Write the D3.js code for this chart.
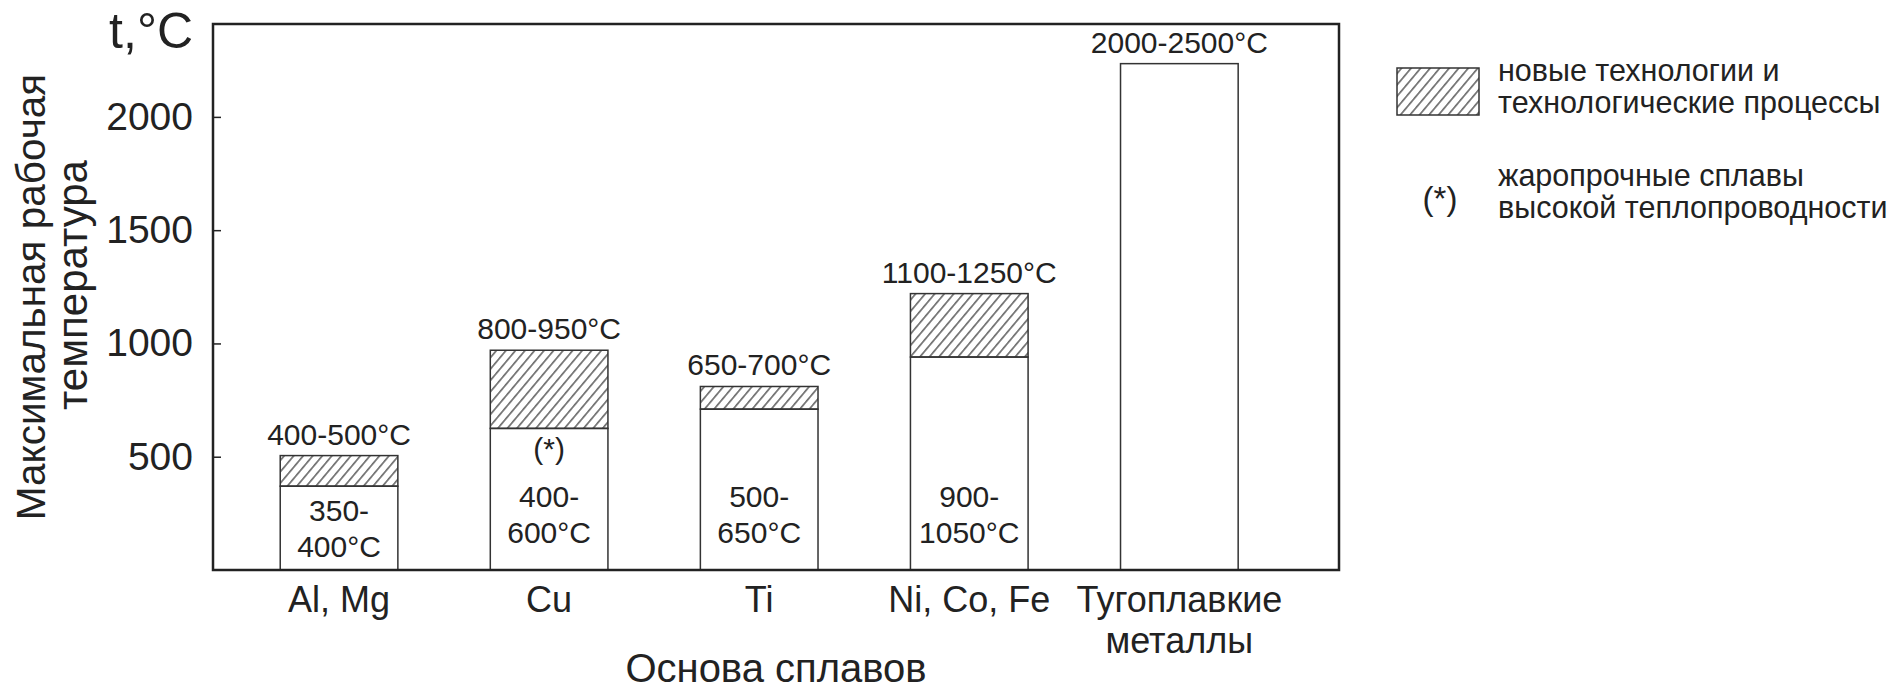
<!DOCTYPE html>
<html>
<head>
<meta charset="utf-8">
<script src="https://cdn.jsdelivr.net/npm/d3@7"></script>
<style>
    body { margin: 0; background: #fff; }
    svg { display: block; font-family: "Liberation Sans", Arial, sans-serif; }
    text { fill: #222; }
</style>
</head>
<body>
<script>
// alloy bases (x categories), one array of lines per label
var categories = ["Al, Mg", "Cu", "Ti", "Ni, Co, Fe", "Тугоплавкие металлы"];
var categoryLines = [["Al, Mg"], ["Cu"], ["Ti"], ["Ni, Co, Fe"], ["Тугоплавкие", "металлы"]];

// top of the plain part of each bar, °C
var baseTemp = [370, 625, 710, 940, 2235];
// top of the hatched part (new technologies), °C
var newTechTemp = [505, 970, 810, 1220, null];

var topLabels = ["400-500°C", "800-950°C", "650-700°C", "1100-1250°C", "2000-2500°C"];
var innerLabels = [["350-", "400°C"], ["400-", "600°C"], ["500-", "650°C"], ["900-", "1050°C"], []];
var starred = [false, true, false, false, false];

var yTicks = [500, 1000, 1500, 2000];
var yExtent = [0, 2410];

var legendItems = [
    ["новые технологии и", "технологические процессы"],
    ["жаропрочные сплавы", "высокой теплопроводности"]
];

var totalWidth = 1893, totalHeight = 689;
var margin = {top: 24, left: 213, right: 554, bottom: 119};
var width = totalWidth - margin.left - margin.right;
var height = totalHeight - margin.top - margin.bottom;

var dataset = categories.map(function(c, i) {
    return {
        key: c,
        lines: categoryLines[i],
        base: baseTemp[i],
        top: newTechTemp[i],
        label: topLabels[i],
        inner: innerLabels[i],
        star: starred[i]
    };
});

var svg = d3.select("body").append("svg")
    .attr("width", totalWidth)
    .attr("height", totalHeight);

var defs = svg.append("defs");
defs.append("pattern")
    .attr("id", "hatch")
    .attr("patternUnits", "userSpaceOnUse")
    .attr("width", 7.3)
    .attr("height", 10)
    .attr("patternTransform", "rotate(40)")
    .append("line")
    .attr("x1", 3.6).attr("y1", 0)
    .attr("x2", 3.6).attr("y2", 10)
    .attr("stroke", "#333")
    .attr("stroke-width", 1.2);

var g = svg.append("g")
    .attr("transform", "translate(" + margin.left + "," + margin.top + ")");

var xScale = d3.scaleBand()
    .domain(categories)
    .range([0, width])
    .paddingInner(0.44)
    .paddingOuter(0.4)
    .align(0.4);

var yScale = d3.scaleLinear()
    .domain(yExtent)
    .range([height, 0]);

// y axis, ticks pointing inward
var yAxis = d3.axisLeft(yScale)
    .tickValues(yTicks)
    .tickSize(-8)
    .tickPadding(20)
    .tickFormat(d3.format("d"));

var yAxisG = g.append("g")
    .call(yAxis);
yAxisG.select(".domain").remove();
yAxisG.selectAll(".tick line").attr("stroke", "#222").attr("stroke-width", 1.5);
yAxisG.selectAll(".tick text")
    .attr("font-size", 39)
    .attr("fill", "#222");

// bars: plain part
g.selectAll(".bar-base")
    .data(dataset)
    .enter()
    .append("rect")
    .attr("class", "bar-base")
    .attr("x", function(d) { return xScale(d.key); })
    .attr("width", xScale.bandwidth())
    .attr("y", function(d) { return yScale(d.base); })
    .attr("height", function(d) { return yScale(yExtent[0]) - yScale(d.base); })
    .attr("fill", "#fff")
    .attr("stroke", "#333")
    .attr("stroke-width", 1.5);

// bars: hatched part
var hatched = dataset.filter(function(d) { return d.top != null; });
g.selectAll(".bar-new")
    .data(hatched)
    .enter()
    .append("rect")
    .attr("class", "bar-new")
    .attr("x", function(d) { return xScale(d.key); })
    .attr("width", xScale.bandwidth())
    .attr("y", function(d) { return yScale(d.top); })
    .attr("height", function(d) { return yScale(d.base) - yScale(d.top); })
    .attr("fill", "url(#hatch)")
    .attr("stroke", "#333")
    .attr("stroke-width", 1.5);

// range labels above bars
g.selectAll(".top-label")
    .data(dataset)
    .enter()
    .append("text")
    .attr("class", "top-label")
    .attr("x", function(d) { return xScale(d.key) + xScale.bandwidth() / 2; })
    .attr("y", function(d) { return yScale(d.top != null ? d.top : d.base) - 11; })
    .attr("text-anchor", "middle")
    .attr("font-size", 30)
    .text(function(d) { return d.label; });

// range labels inside the plain part
var lineStep = 36;
dataset.forEach(function(d) {
    if (!d.inner.length) return;
    var cx = xScale(d.key) + xScale.bandwidth() / 2;
    var segTop = yScale(d.base), segBottom = yScale(yExtent[0]);
    var centered = segTop + (segBottom - segTop - (lineStep + 22)) / 2 + 22 + lineStep;
    var last = Math.max(centered, segBottom - 27);
    d.inner.forEach(function(line, i) {
        g.append("text")
            .attr("x", cx)
            .attr("y", last - (d.inner.length - 1 - i) * lineStep)
            .attr("text-anchor", "middle")
            .attr("font-size", 30)
            .text(line);
    });
    if (d.star) {
        g.append("text")
            .attr("x", cx)
            .attr("y", segTop + 31)
            .attr("text-anchor", "middle")
            .attr("font-size", 30)
            .text("(*)");
    }
});

// plot frame
g.append("rect")
    .attr("x", 0)
    .attr("y", 0)
    .attr("width", width)
    .attr("height", height)
    .attr("fill", "none")
    .attr("stroke", "#222")
    .attr("stroke-width", 2.5);

// category labels
dataset.forEach(function(d) {
    var cx = xScale(d.key) + xScale.bandwidth() / 2;
    d.lines.forEach(function(line, i) {
        g.append("text")
            .attr("x", cx)
            .attr("y", height + 42 + i * 41)
            .attr("text-anchor", "middle")
            .attr("font-size", 36)
            .text(line);
    });
});

// axis titles
g.append("text")
    .attr("x", width / 2)
    .attr("y", height + 112)
    .attr("text-anchor", "middle")
    .attr("font-size", 40)
    .text("Основа сплавов");

g.append("text")
    .attr("x", -20)
    .attr("y", 24)
    .attr("text-anchor", "end")
    .attr("font-size", 50)
    .text("t,°C");

var yTitle = ["Максимальная рабочая", "температура"];
yTitle.forEach(function(line, i) {
    svg.append("text")
        .attr("transform", "translate(" + (45 + i * 42) + "," + (margin.top + height / 2 - i * 12) + ") rotate(-90)")
        .attr("text-anchor", "middle")
        .attr("font-size", i ? 42 : 40.5)
        .text(line);
});

// legend
var legend = svg.append("g")
    .attr("transform", "translate(1397,68)");

legend.append("rect")
    .attr("x", 0)
    .attr("y", 0)
    .attr("width", 82)
    .attr("height", 47)
    .attr("fill", "url(#hatch)")
    .attr("stroke", "#333")
    .attr("stroke-width", 1.5);

legend.append("text")
    .attr("x", 43)
    .attr("y", 142)
    .attr("text-anchor", "middle")
    .attr("font-size", 33)
    .text("(*)");

legendItems.forEach(function(lines, k) {
    lines.forEach(function(line, i) {
        legend.append("text")
            .attr("x", 101)
            .attr("y", 13 + k * 105 + i * 32)
            .attr("font-size", 30.5)
            .text(line);
    });
});
</script>
</body>
</html>
